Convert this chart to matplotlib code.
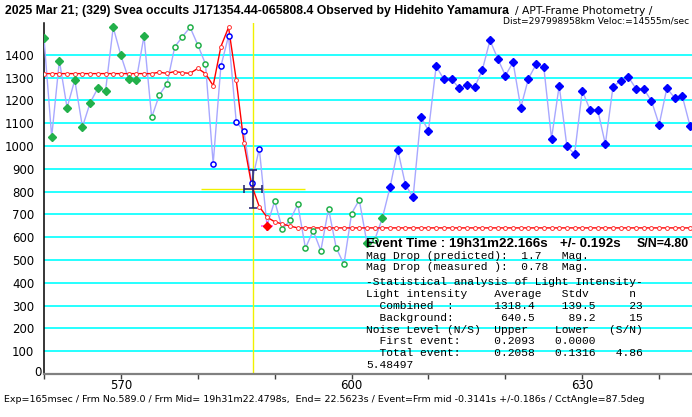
import matplotlib
matplotlib.use("Agg")
import matplotlib.pyplot as plt
from matplotlib import font_manager

# ---------------- data ----------------
frame_start = 560
intensity = [1473, 1041, 1375, 1168, 1290, 1084, 1190, 1254, 1242, 1521,
             1398, 1294, 1290, 1482, 1126, 1224, 1274, 1435, 1480, 1521,
             1444, 1360, 923, 1350, 1483, 1106, 1065, 839, 989, 651,
             759, 636, 674, 745, 552, 629, 541, 725, 554, 481,
             704, 764, 574, 588, 684, 819, 984, 831, 775, 1128,
             1068, 1350, 1293, 1293, 1254, 1267, 1258, 1334, 1464, 1384,
             1309, 1368, 1169, 1296, 1359, 1346, 1033, 1265, 999, 965,
             1243, 1160, 1160, 1008, 1261, 1286, 1303, 1251, 1251, 1198,
             1094, 1254, 1212, 1220, 1090]
model = [1318, 1318, 1318, 1318, 1318, 1318, 1318, 1318, 1318, 1318,
         1318, 1318, 1318, 1318, 1318, 1324, 1319, 1327, 1322, 1319,
         1341, 1318, 1265, 1436, 1521, 1290, 1014, 829, 734, 688,
         668, 658, 649, 641, 641, 641, 641, 641, 641, 641,
         641, 641, 641, 641, 641, 641, 641, 641, 641, 641,
         641, 641, 641, 641, 641, 641, 641, 641, 641, 641,
         641, 641, 641, 641, 641, 641, 641, 641, 641, 641,
         641, 641, 641, 641, 641, 641, 641, 641, 641, 641,
         641, 641, 641, 641, 641]
frames = list(range(frame_start, frame_start + len(intensity)))

green_filled_frames = list(range(560, 574)) + [602, 604]
green_open_frames = list(range(574, 582)) + list(range(590, 602)) + [603]
blue_open_frames = list(range(582, 589))
blue_filled_frames = list(range(605, 645))
target_frame = 589

event_frame = 587.2
event_frame_err = 1.15
event_level = 811
event_level_err = 84
yellow_h_span = (580.4, 593.9)

yticks = [0, 100, 200, 300, 400, 500, 600, 700, 800, 900, 1000, 1100, 1200, 1300, 1400]
xticks = [560, 570, 580, 590, 600, 610, 620, 630, 640]
xtick_labels = {570: "570", 600: "600", 630: "630"}

title_bold = "2025 Mar 21; (329) Svea occults J171354.44-065808.4 Observed by Hidehito Yamamura"
title_rest = "/ APT-Frame Photometry /"
title_line2 = "Dist=297998958km Veloc:=14555m/sec"
event_parts = ["Event Time : 19h31m22.166s", "+/- 0.192s", "S/N=4.80"]
mono_lines_top = ["Mag Drop (predicted):  1.7   Mag.",
                  "Mag Drop (measured ):  0.78  Mag."]
mono_lines = ["-Statistical analysis of Light Intensity-",
              "Light intensity    Average   Stdv      n",
              "  Combined  :      1318.4    139.5     23",
              "  Background:       640.5     89.2     15",
              "Noise Level (N/S)  Upper    Lower   (S/N)",
              "  First event:     0.2093   0.0000",
              "  Total event:     0.2058   0.1316   4.86",
              "5.48497"]
footer = ("Exp=165msec / Frm No.589.0 / Frm Mid= 19h31m22.4798s,  End= 22.5623s / "
          "Event=Frm mid -0.3141s +/-0.186s / CctAngle=87.5deg")

# ---------------- fonts ----------------
names = {f.name for f in font_manager.fontManager.ttflist}
narrow = "Liberation Sans Narrow" if "Liberation Sans Narrow" in names else "DejaVu Sans"
sans = "Liberation Sans" if "Liberation Sans" in names else "DejaVu Sans"
mono = "Liberation Mono" if "Liberation Mono" in names else "DejaVu Sans Mono"
plt.rcParams["font.family"] = [narrow, "DejaVu Sans"]

W, H = 692, 417
fig = plt.figure(figsize=(W / 100, H / 100), dpi=100)
fig.patch.set_facecolor("white")

x_left, x_right_px = 44, 692
y_top, y_bot = 23, 374
ax = fig.add_axes([x_left / W, (H - y_bot) / H, (x_right_px - x_left) / W, (y_bot - y_top) / H])
ax.set_xlim(560, 644.27)
ax.set_ylim(0, 1540)

for s in ["top", "right"]:
    ax.spines[s].set_visible(False)
ax.spines["bottom"].set_color("#808080")
ax.spines["bottom"].set_linewidth(1.6)
ax.spines["left"].set_color("black")
ax.spines["left"].set_linewidth(1.1)

ax.set_yticks(yticks)
ax.set_yticklabels(["" if v == 0 else str(v) for v in yticks])
ax.tick_params(axis="y", length=0, pad=7, labelsize=8.5)
ax.set_xticks(xticks)
ax.set_xticklabels([xtick_labels.get(v, "") for v in xticks])
ax.tick_params(axis="x", length=3.5, width=1, color="#404040", pad=0.3, labelsize=8.5)
ax.grid(axis="y", color="#00ffff", linewidth=1.2)
ax.set_axisbelow(True)

# yellow guide lines
ax.axvline(event_frame, color="#f0f000", linewidth=1.0, zorder=1.5)
ax.hlines(event_level, yellow_h_span[0], yellow_h_span[1], color="#f0f000", linewidth=1.0, zorder=1.5)

# data line
ax.plot(frames, intensity, color="#a8a8ff", linewidth=1.0, zorder=3)

def sel(fr_list):
    xs = [f for f in frames if f in fr_list]
    ys = [intensity[f - frame_start] for f in xs]
    return xs, ys

gx, gy = sel(green_filled_frames)
ax.plot(gx, gy, linestyle="none", marker="D", markersize=3.6, color="#22b04a", zorder=5)
gx, gy = sel(green_open_frames)
ax.plot(gx, gy, linestyle="none", marker="o", markersize=3.7, mfc="white", mec="#22b04a", mew=1.1, zorder=5)
gx, gy = sel(blue_open_frames)
ax.plot(gx, gy, linestyle="none", marker="o", markersize=3.7, mfc="white", mec="#0000ff", mew=1.1, zorder=5)
gx, gy = sel(blue_filled_frames)
ax.plot(gx, gy, linestyle="none", marker="D", markersize=3.6, color="#0000ff", zorder=5)

# model curve
ax.plot(frames, model, color="#ff0000", linewidth=1.0, marker="o", markersize=2.8,
        mfc="white", mec="#ff3030", mew=0.7, zorder=4)

# target frame marker
tx, ty = sel([target_frame])
ax.plot(tx, ty, linestyle="none", marker="_", markersize=9, mew=1.1, color="#ff40ff", zorder=6)
ax.plot(tx, ty, linestyle="none", marker="|", markersize=7, mew=1.1, color="#ff40ff", zorder=6)
ax.plot(tx, ty, linestyle="none", marker="D", markersize=3.8, color="#ff0000", zorder=7)

# event error bars
ax.errorbar([event_frame], [event_level], xerr=[event_frame_err], yerr=[event_level_err],
            fmt="none", ecolor="#1c1c6e", elinewidth=1.1, capsize=3, capthick=1.1, zorder=6)

# ---------------- texts ----------------
renderer = fig.canvas.get_renderer()

def px(x, y):
    return x / W, 1 - y / H

def fit(t, width):
    bb = t.get_window_extent(renderer)
    t.set_fontsize(t.get_fontsize() * width / bb.width)
    return t.get_fontsize()

t = fig.text(*px(5, 11), title_bold, fontweight="bold", family=sans, fontsize=9, va="center", ha="left")
fit(t, 506)
t = fig.text(*px(515, 11), title_rest, family=narrow, fontsize=9, va="center", ha="left")
fit(t, 138)
t = fig.text(*px(503, 21.5), title_line2, family=narrow, fontsize=9, va="center", ha="left")
fit(t, 186)

t = fig.text(*px(366, 244.3), event_parts[0], fontweight="bold", family=sans, fontsize=9, va="center", ha="left", zorder=10)
fs = fit(t, 182)
fig.text(*px(560, 244.3), event_parts[1], fontweight="bold", family=sans, fontsize=fs, va="center", ha="left", zorder=10)
t = fig.text(*px(637, 244.3), event_parts[2], fontweight="bold", family=sans, fontsize=fs, va="center", ha="left", zorder=10)
fit(t, 52)

t = fig.text(*px(366, 282), mono_lines[0], family=mono, fontsize=8, va="center", ha="left", zorder=10)
mfs = fit(t, 276)
for i, line in enumerate(mono_lines_top):
    fig.text(*px(366, 255.7 + 11 * i), line, family=mono, fontsize=mfs, va="center", ha="left", zorder=10)
for i, line in enumerate(mono_lines[1:], start=1):
    fig.text(*px(366, 282 + 11.9 * i), line, family=mono, fontsize=mfs, va="center", ha="left", zorder=10)

fig.text(*px(42, 373), "0", fontsize=8.5, va="center", ha="right")

t = fig.text(*px(4.5, 400), footer, family=narrow, fontsize=8, va="center", ha="left")
fit(t, 641)

fig.savefig("out.png", dpi=100)
